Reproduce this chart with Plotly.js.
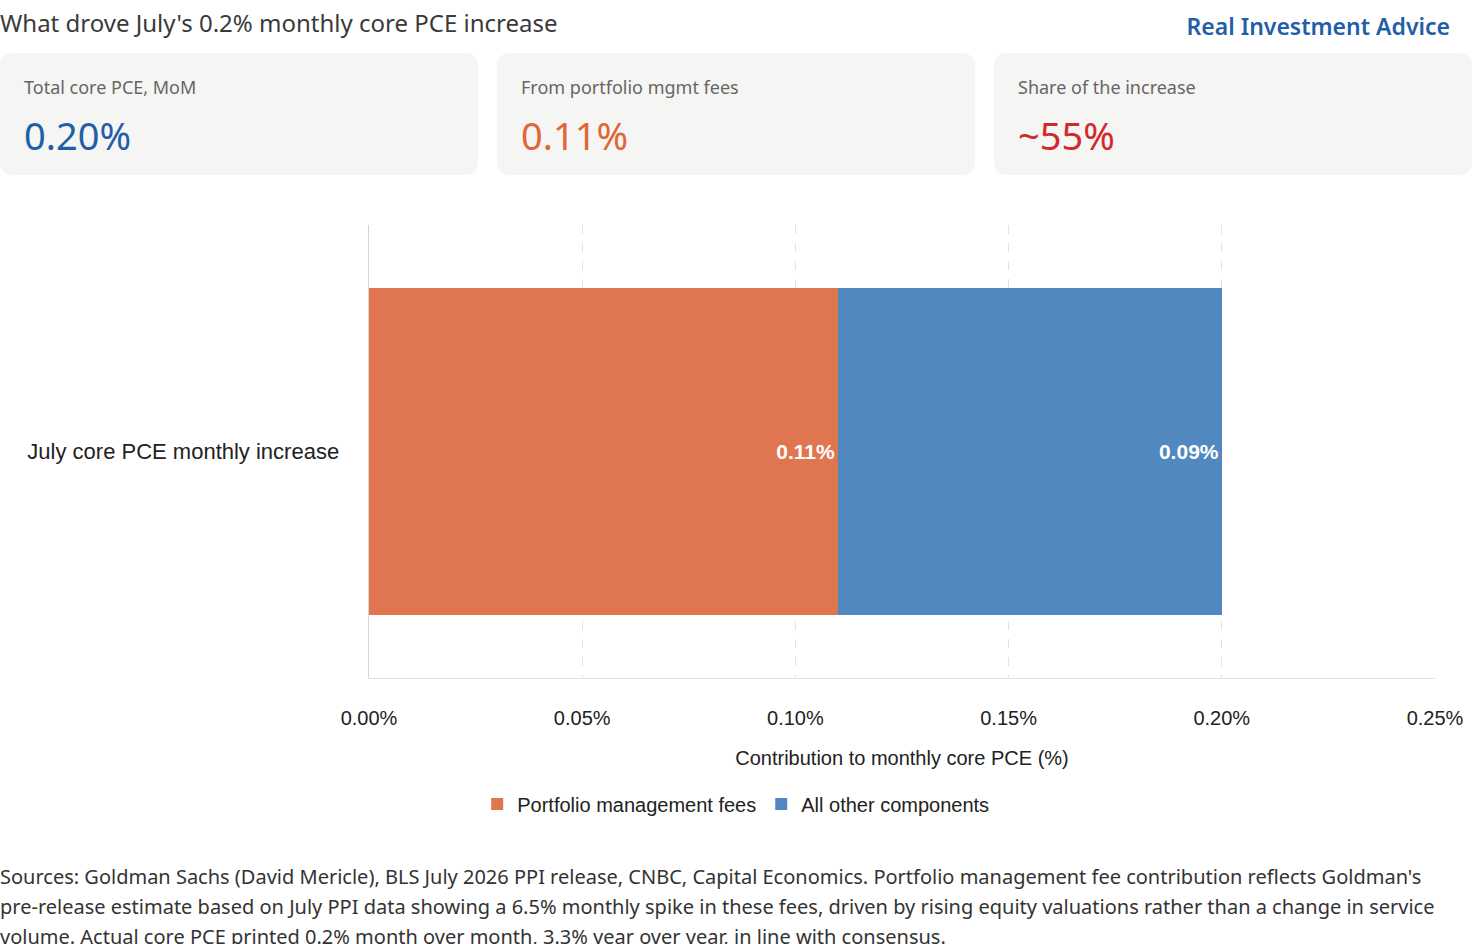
<!DOCTYPE html>
<html><head><meta charset="utf-8">
<script src="https://cdn.plot.ly/plotly-3.0.1.min.js"></script>
<style>
body{margin:0;width:1472px;height:944px;overflow:hidden;background:#fff;font-family:"Noto Sans","Open Sans",sans-serif;color:#333}
#head{position:absolute;left:0;top:6px;font-size:24px;color:#3a3a3a}
#brand{position:absolute;right:22px;top:10px;font-size:23px;font-weight:600;color:#1f5fa8}
.card{position:absolute;top:53px;width:478px;height:122px;background:#f5f5f4;border-radius:12px}
.card .l{position:absolute;left:24px;top:22px;font-size:18px;color:#666}
.card .v{position:absolute;left:24px;top:56px;font-size:38px}
#chart{position:absolute;left:0;top:195px;width:1472px;height:640px}
#note{position:absolute;left:0;top:862px;font-size:20px;line-height:30px;color:#333;width:1472px}
</style></head><body>
<div id="head">What drove July's 0.2% monthly core PCE increase</div>
<div id="brand">Real Investment Advice</div>
<div class="card" style="left:0"><div class="l">Total core PCE, MoM</div><div class="v" style="color:#1f5fa8">0.20%</div></div>
<div class="card" style="left:497px"><div class="l">From portfolio mgmt fees</div><div class="v" style="color:#e0663a">0.11%</div></div>
<div class="card" style="left:994px"><div class="l">Share of the increase</div><div class="v" style="color:#d02b2b">~55%</div></div>
<div id="chart"></div>
<div id="note">Sources: Goldman Sachs (David Mericle), BLS July 2026 PPI release, CNBC, Capital Economics. Portfolio management fee contribution reflects Goldman's pre&#8209;release estimate based on July PPI data showing a 6.5% monthly spike in these fees, driven by rising equity valuations rather than a change in service volume. Actual core PCE printed 0.2% month over month, 3.3% year over year, in line with consensus.</div>
<script>
const categories = ["July core PCE monthly increase"];
const portfolioFees = [0.11];
const otherComponents = [0.09];
const tickVals = [0, 0.05, 0.10, 0.15, 0.20, 0.25];
const tickText = ["0.00%", "0.05%", "0.10%", "0.15%", "0.20%", "0.25%"];

const fnt = {family: "Liberation Sans, Arial, sans-serif", size: 20, color: "#222"};
const mk = (name, vals, col) => ({
  type: "bar", orientation: "h", name: name, y: categories, x: vals,
  marker: {color: col, line: {width: 0}},
  text: vals.map(v => v.toFixed(2) + "%"), textposition: "inside", insidetextanchor: "end",
  textfont: {family: fnt.family, size: 21, color: "#fff", weight: "bold"},
  hoverinfo: "none"
});
Plotly.newPlot("chart", [
  mk("Portfolio management fees", portfolioFees, "#e07650"),
  mk("All other components", otherComponents, "#5188c0")
], {
  barmode: "stack", bargap: 0.28,
  margin: {l: 369, r: 37, t: 30, b: 101},
  paper_bgcolor: "#fff", plot_bgcolor: "#fff",
  font: fnt,
  xaxis: {range: [0, 0.25], tickvals: tickVals, ticktext: tickText, showgrid: true,
    gridcolor: "#e2e2e2", griddash: "dash", zeroline: false, showline: true, linecolor: "#e2e2e2",
    ticks: "outside", ticklen: 22, tickcolor: "rgba(0,0,0,0)",
    title: {text: "Contribution to monthly core PCE (%)", font: fnt, standoff: 22}},
  yaxis: {showline: true, linecolor: "#d5d5d5", ticks: "", ticksuffix: "    ", showgrid: false,
    tickfont: {family: fnt.family, size: 22, color: "#222"}},
  legend: {orientation: "h", traceorder: "normal", x: 0.344, xanchor: "center", y: -0.235, yanchor: "top", font: fnt},
  showlegend: true
}, {displayModeBar: false});
</script>
</body></html>
